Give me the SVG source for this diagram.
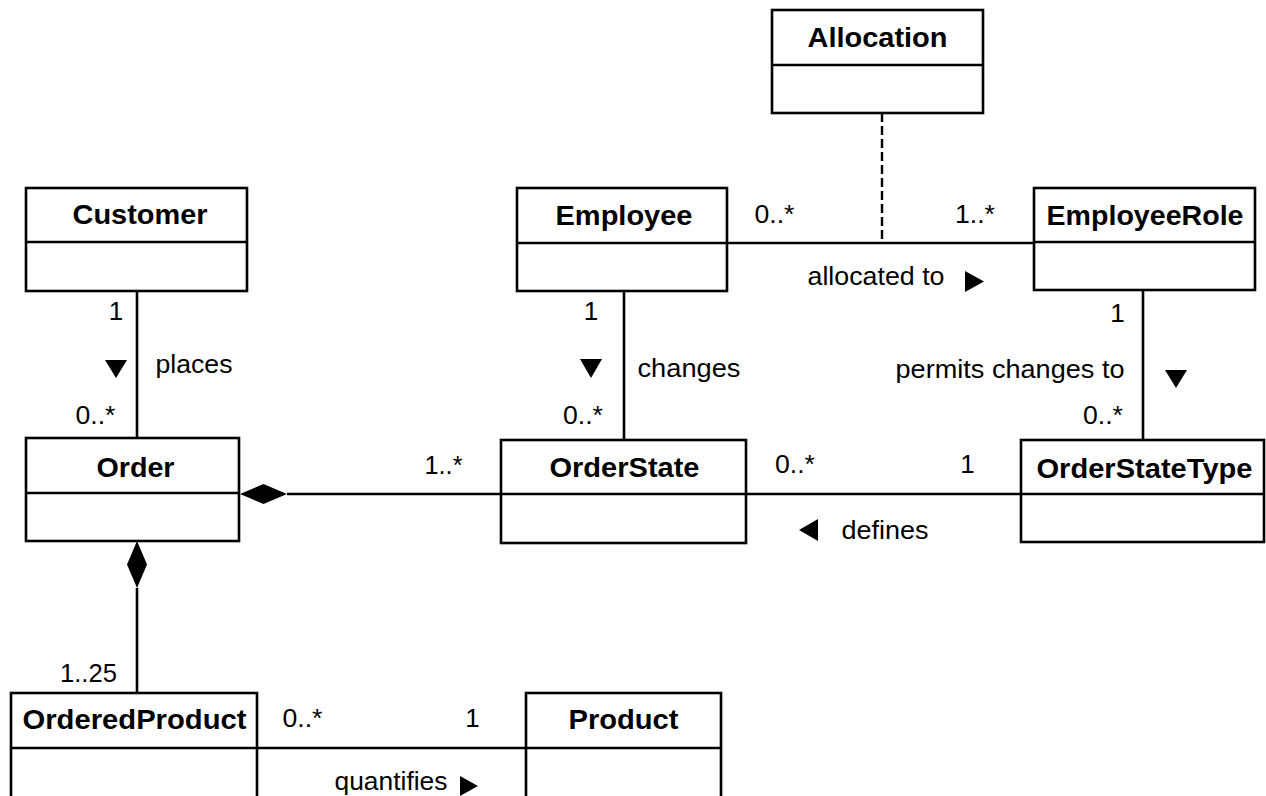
<svg xmlns="http://www.w3.org/2000/svg" width="1266" height="796" viewBox="0 0 1266 796">
  <style>
    .box { fill: #ffffff; stroke: #000000; stroke-width: 2.6; }
    .div { stroke: #000000; stroke-width: 2.6; }
    .name { font-family: "Liberation Sans", Arial, sans-serif; font-weight: bold; font-size: 28px; text-anchor: middle; fill: #000000; }
    .lbl { font-family: "Liberation Sans", Arial, sans-serif; font-size: 26px; text-anchor: middle; fill: #000000; }
    .edge { stroke: #000000; stroke-width: 2.6; fill: none; }
    .dash { stroke: #000000; stroke-width: 2.4; fill: none; stroke-dasharray: 9 4; }
    .solid { fill: #000000; stroke: none; }
  </style>
  <rect width="1266" height="796" fill="#ffffff"/>

  <!-- associations -->
  <g id="connectors">
    <line class="edge" x1="137" y1="291" x2="137" y2="438"/>
    <line class="edge" x1="624" y1="291" x2="624" y2="440"/>
    <line class="edge" x1="1143" y1="290" x2="1143" y2="440"/>
    <line class="edge" x1="727" y1="243" x2="1034" y2="243"/>
    <line class="dash" x1="882" y1="113" x2="882" y2="243"/>
    <line class="edge" x1="287" y1="494" x2="501" y2="494"/>
    <polygon class="solid" points="240,494 263.5,484 287,494 263.5,504"/>
    <line class="edge" x1="746" y1="494" x2="1021" y2="494"/>
    <line class="edge" x1="137" y1="588" x2="137" y2="693"/>
    <polygon class="solid" points="137,541 147,564.5 137,588 127,564.5"/>
    <line class="edge" x1="257" y1="748" x2="526" y2="748"/>

    <!-- Customer places Order -->
    <text class="lbl" x="116" y="320">1</text>
    <polygon class="solid" points="105,360 127,360 116,378"/>
    <text class="lbl" x="194" y="373" textLength="77" lengthAdjust="spacingAndGlyphs">places</text>
    <text class="lbl" x="95.5" y="424" textLength="40" lengthAdjust="spacingAndGlyphs">0..*</text>

    <!-- Employee changes OrderState -->
    <text class="lbl" x="591" y="320">1</text>
    <polygon class="solid" points="580,359 602,359 591,378"/>
    <text class="lbl" x="689" y="377" textLength="103" lengthAdjust="spacingAndGlyphs">changes</text>
    <text class="lbl" x="583" y="424" textLength="40" lengthAdjust="spacingAndGlyphs">0..*</text>

    <!-- EmployeeRole permits changes to OrderStateType -->
    <text class="lbl" x="1117.5" y="322">1</text>
    <text class="lbl" x="1010" y="378" textLength="229" lengthAdjust="spacingAndGlyphs">permits changes to</text>
    <polygon class="solid" points="1165,370 1187,370 1176,388"/>
    <text class="lbl" x="1103" y="424" textLength="40" lengthAdjust="spacingAndGlyphs">0..*</text>

    <!-- Employee allocated to EmployeeRole -->
    <text class="lbl" x="774.5" y="223" textLength="40" lengthAdjust="spacingAndGlyphs">0..*</text>
    <text class="lbl" x="975" y="223" textLength="40" lengthAdjust="spacingAndGlyphs">1..*</text>
    <text class="lbl" x="876" y="285" textLength="137" lengthAdjust="spacingAndGlyphs">allocated to</text>
    <polygon class="solid" points="965,271 965,292 984,281.5"/>

    <!-- Order composed of OrderState -->
    <text class="lbl" x="443.5" y="474" textLength="38" lengthAdjust="spacingAndGlyphs">1..*</text>

    <!-- OrderStateType defines OrderState -->
    <text class="lbl" x="795" y="473" textLength="40" lengthAdjust="spacingAndGlyphs">0..*</text>
    <text class="lbl" x="967.5" y="473">1</text>
    <polygon class="solid" points="818,519 818,541 799,530"/>
    <text class="lbl" x="885" y="539" textLength="87" lengthAdjust="spacingAndGlyphs">defines</text>

    <!-- Order composed of OrderedProduct -->
    <text class="lbl" x="88.5" y="682" textLength="57" lengthAdjust="spacingAndGlyphs">1..25</text>

    <!-- OrderedProduct quantifies Product -->
    <text class="lbl" x="302.5" y="727" textLength="40" lengthAdjust="spacingAndGlyphs">0..*</text>
    <text class="lbl" x="472.5" y="727">1</text>
    <text class="lbl" x="391" y="790" textLength="113" lengthAdjust="spacingAndGlyphs">quantifies</text>
    <polygon class="solid" points="460,776 460,796 478,786"/>
  </g>

  <g id="allocation">
    <rect class="box" x="772" y="10" width="211" height="103"/>
    <line class="div" x1="772" y1="65" x2="983" y2="65"/>
    <text class="name" x="877.5" y="47" textLength="140" lengthAdjust="spacingAndGlyphs">Allocation</text>
  </g>

  <g id="customer">
    <rect class="box" x="26" y="188" width="221" height="103"/>
    <line class="div" x1="26" y1="242" x2="247" y2="242"/>
    <text class="name" x="140" y="224" textLength="135" lengthAdjust="spacingAndGlyphs">Customer</text>
  </g>

  <g id="employee">
    <rect class="box" x="517" y="188" width="210" height="103"/>
    <line class="div" x1="517" y1="243" x2="727" y2="243"/>
    <text class="name" x="624" y="225" textLength="137" lengthAdjust="spacingAndGlyphs">Employee</text>
  </g>

  <g id="employee-role">
    <rect class="box" x="1034" y="188" width="221" height="102"/>
    <line class="div" x1="1034" y1="242" x2="1255" y2="242"/>
    <text class="name" x="1145" y="225" textLength="197" lengthAdjust="spacingAndGlyphs">EmployeeRole</text>
  </g>

  <g id="order">
    <rect class="box" x="26" y="438" width="213" height="103"/>
    <line class="div" x1="26" y1="493" x2="239" y2="493"/>
    <text class="name" x="135.5" y="477" textLength="78" lengthAdjust="spacingAndGlyphs">Order</text>
  </g>

  <g id="order-state">
    <rect class="box" x="501" y="440" width="245" height="103"/>
    <line class="div" x1="501" y1="494" x2="746" y2="494"/>
    <text class="name" x="624.5" y="477" textLength="150" lengthAdjust="spacingAndGlyphs">OrderState</text>
  </g>

  <g id="order-state-type">
    <rect class="box" x="1021" y="440" width="243" height="102"/>
    <line class="div" x1="1021" y1="494" x2="1264" y2="494"/>
    <text class="name" x="1144.5" y="478" textLength="216" lengthAdjust="spacingAndGlyphs">OrderStateType</text>
  </g>

  <g id="ordered-product">
    <rect class="box" x="11" y="693" width="246" height="120"/>
    <line class="div" x1="11" y1="748" x2="257" y2="748"/>
    <text class="name" x="134.5" y="729" textLength="224" lengthAdjust="spacingAndGlyphs">OrderedProduct</text>
  </g>

  <g id="product">
    <rect class="box" x="526" y="693" width="195" height="120"/>
    <line class="div" x1="526" y1="748" x2="721" y2="748"/>
    <text class="name" x="623.5" y="729" textLength="110" lengthAdjust="spacingAndGlyphs">Product</text>
  </g>
</svg>
